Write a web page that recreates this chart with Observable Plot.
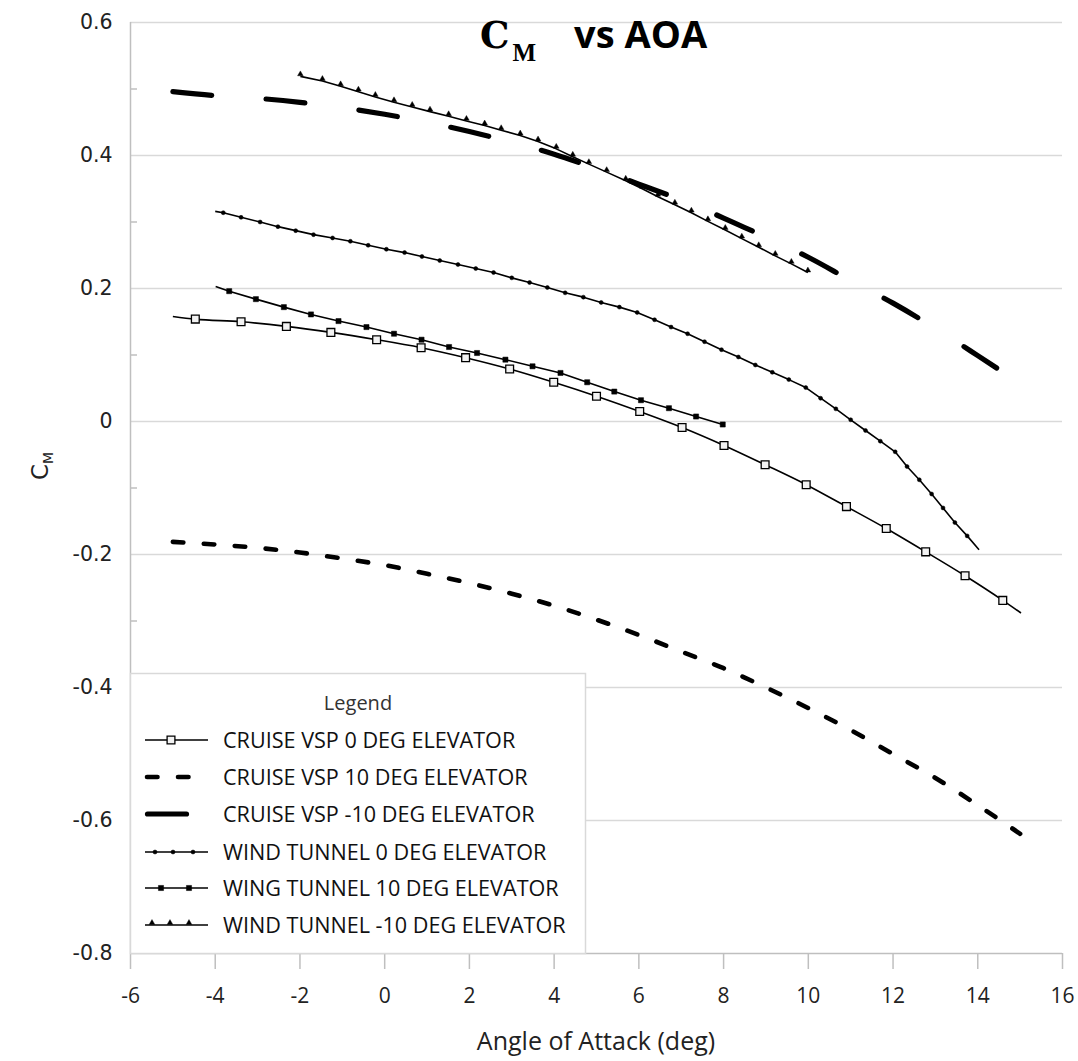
<!DOCTYPE html>
<html><head><meta charset="utf-8">
<script src="https://cdn.jsdelivr.net/npm/d3@7"></script>
<script src="https://cdn.jsdelivr.net/npm/@observablehq/plot@0.6"></script>
<style>
body{margin:0;background:#fff}
#chart{position:relative;width:1078px;height:1061px}
</style>
</head><body><div id="chart"></div>
<script>
// ---------- data ----------
const xTicks = [-6,-4,-2,0,2,4,6,8,10,12,14,16];
const yTicks = [-0.8,-0.6,-0.4,-0.2,0,0.2,0.4,0.6];
const yMinorTicks = [-0.7,-0.5,-0.3,-0.1,0.1,0.3,0.5];
const xTitle = "Angle of Attack (deg)";
const legendTitle = "Legend";
const seriesNames = [
  "CRUISE VSP 0 DEG ELEVATOR",
  "CRUISE VSP 10 DEG ELEVATOR",
  "CRUISE VSP -10 DEG ELEVATOR",
  "WIND TUNNEL 0 DEG ELEVATOR",
  "WING TUNNEL 10 DEG ELEVATOR",
  "WIND TUNNEL -10 DEG ELEVATOR"
];

const vsp0Aoa = [-5.0,-4.47,-3.39,-2.32,-1.27,-0.19,0.86,1.91,2.95,3.99,5.0,6.02,7.02,8.01,8.98,9.95,10.9,11.84,12.77,13.7,14.59,15.02];
const vsp0Cm  = [0.158,0.154,0.150,0.143,0.134,0.123,0.111,0.096,0.079,0.059,0.038,0.015,-0.009,-0.036,-0.065,-0.095,-0.128,-0.161,-0.196,-0.232,-0.269,-0.288];

const vsp10Aoa = [-5,-4,-3,-2,-1,0,1,2,3,4,5,6,7,8,9,10,11,12,13,14,15];
const vsp10Cm  = [-0.181,-0.185,-0.190,-0.197,-0.206,-0.216,-0.229,-0.243,-0.259,-0.277,-0.298,-0.321,-0.346,-0.371,-0.400,-0.431,-0.464,-0.500,-0.536,-0.577,-0.620];

const vspM10Aoa = [-5,-4,-3,-2,-1,0,1,2,3,4,5,6,7,8,9,10,11,12,13,14,15];
const vspM10Cm  = [0.496,0.490,0.486,0.480,0.472,0.462,0.450,0.436,0.420,0.402,0.380,0.357,0.333,0.306,0.277,0.247,0.212,0.178,0.140,0.099,0.057];

const wt0Aoa = [-4.0,-3.81,-3.39,-2.94,-2.52,-2.10,-1.68,-1.23,-0.81,-0.39,0.04,0.47,0.88,1.30,1.73,2.15,2.57,3.0,3.42,3.84,4.26,4.69,5.11,5.54,5.96,6.37,6.76,7.15,7.55,7.95,8.35,8.75,9.15,9.54,9.94,10.29,10.65,11.0,11.35,11.70,12.05,12.33,12.62,12.91,13.18,13.46,13.75,14.03];
const wt0Cm  = [0.316,0.314,0.307,0.300,0.293,0.287,0.281,0.276,0.271,0.265,0.259,0.254,0.248,0.242,0.236,0.230,0.224,0.216,0.209,0.2015,0.1935,0.187,0.179,0.172,0.164,0.153,0.142,0.132,0.120,0.108,0.097,0.085,0.074,0.063,0.051,0.035,0.019,0.0026,-0.0135,-0.0296,-0.0456,-0.0677,-0.0877,-0.109,-0.130,-0.152,-0.172,-0.193];

const wt10Aoa = [-3.99,-3.67,-3.04,-2.38,-1.74,-1.09,-0.43,0.22,0.87,1.52,2.18,2.85,3.49,4.15,4.78,5.42,6.05,6.71,7.35,7.98];
const wt10Cm  = [0.203,0.196,0.184,0.172,0.161,0.151,0.142,0.132,0.123,0.112,0.103,0.093,0.083,0.073,0.059,0.045,0.032,0.020,0.0075,-0.0045];

const wtM10Aoa = [-1.99,-1.47,-1.04,-0.62,-0.22,0.22,0.65,1.07,1.51,1.93,2.36,2.75,3.20,3.62,4.05,4.44,4.82,5.24,5.69,6.08,6.45,6.85,7.24,7.63,8.04,8.43,8.83,9.22,9.60,9.99];
const wtM10Cm  = [0.519,0.512,0.504,0.496,0.488,0.480,0.473,0.466,0.459,0.452,0.445,0.438,0.430,0.421,0.410,0.398,0.387,0.375,0.362,0.350,0.338,0.326,0.314,0.301,0.288,0.275,0.262,0.249,0.237,0.224];

// ---------- styles ----------
const FONT = "'Open Sans', sans-serif";
const markerStyles = {
  square:   {symbol: "square", r: 4.4, fill: "#f2f2f2", stroke: "black", strokeWidth: 1.3},
  fsquare:  {symbol: "square", r: 2.9, fill: "black", stroke: "black", strokeWidth: 0.5},
  dot:      {symbol: "circle", r: 2.0, fill: "black", stroke: "black", strokeWidth: 0.5},
  triangle: {symbol: "triangle", r: 2.1, fill: "black", stroke: "black", strokeWidth: 0.4, dy: -2.2}
};
const series = [
  {name: seriesNames[0], aoa: vsp0Aoa, cm: vsp0Cm, width: 1.6, dash: null, curve: "monotone-x", marker: "square", markFrom: 1, markTo: vsp0Aoa.length - 2},
  {name: seriesNames[1], aoa: vsp10Aoa, cm: vsp10Cm, width: 4.6, dash: "10.5,20.5", curve: "monotone-x", marker: null},
  {name: seriesNames[2], aoa: vspM10Aoa, cm: vspM10Cm, width: 5.2, dash: "39,54.5", curve: "monotone-x", marker: null},
  {name: seriesNames[3], aoa: wt0Aoa, cm: wt0Cm, width: 1.6, dash: null, curve: "linear", marker: "dot", markFrom: 1, markTo: wt0Aoa.length - 2},
  {name: seriesNames[4], aoa: wt10Aoa, cm: wt10Cm, width: 1.6, dash: null, curve: "linear", marker: "fsquare", markFrom: 1, markTo: wt10Aoa.length - 1},
  {name: seriesNames[5], aoa: wtM10Aoa, cm: wtM10Cm, width: 1.6, dash: null, curve: "linear", marker: "triangle", markFrom: 0, markTo: wtM10Aoa.length - 1}
];

const yFmt = d => Math.abs(d) < 1e-9 ? "0" : d.toFixed(1);

const marks = [
  Plot.ruleY(yTicks.filter(d => d > -0.8), {stroke: "#d9d9d9", strokeWidth: 1.5}),
  Plot.ruleY([-0.8], {stroke: "#bfbfbf", strokeWidth: 1.5}),
  Plot.ruleX([-6], {stroke: "#bfbfbf", strokeWidth: 1.5}),
  Plot.axisX({ticks: xTicks, tickSize: 16, tickPadding: 19, stroke: "#bfbfbf", strokeWidth: 1.5,
    fontSize: 21, fontFamily: FONT, fill: "#222", tickFormat: d => String(d), label: null}),
  Plot.axisY({ticks: yTicks, tickSize: 0, tickPadding: 18, fontSize: 20.5, fontFamily: "'DejaVu Sans', sans-serif",
    fill: "#222", tickFormat: yFmt, label: null}),
  Plot.axisY({ticks: yMinorTicks, tickSize: 7, dx: 7, stroke: "#bfbfbf", strokeWidth: 1.5, tickFormat: () => "", label: null})
];

for (const s of series) {
  const rows = s.aoa.map((a, i) => ({aoa: a, cm: s.cm[i], i}));
  marks.push(Plot.line(rows, {x: "aoa", y: "cm", stroke: "black", strokeWidth: s.width,
    strokeDasharray: s.dash, strokeLinecap: s.dash ? "round" : "butt", strokeLinejoin: "round", curve: s.curve}));
  if (s.marker) {
    const mrows = rows.filter(r => r.i >= s.markFrom && r.i <= s.markTo);
    marks.push(Plot.dot(mrows, {x: "aoa", y: "cm", ...markerStyles[s.marker]}));
  }
}

const plot = Plot.plot({
  width: 1078, height: 1061,
  marginLeft: 130, marginRight: 16, marginTop: 22, marginBottom: 108,
  x: {domain: [-6, 16]},
  y: {domain: [-0.8, 0.6]},
  style: {fontFamily: FONT, background: "white", color: "#222"},
  marks
});
document.getElementById("chart").appendChild(plot);

// ---------- title, axis titles, legend (overlaid text) ----------
const svg = d3.select(plot);

const title = svg.append("text").attr("x", 480).attr("y", 48).attr("text-anchor", "start")
  .attr("fill", "black");
title.append("tspan").text("C").attr("font-family", "'DejaVu Serif', serif").attr("font-weight", "bold").attr("font-size", 37);
title.append("tspan").text("M").attr("font-family", "'Liberation Serif', serif").attr("font-weight", "bold").attr("font-size", 25).attr("dy", 13).attr("dx", 3);
title.append("tspan").text("vs AOA").attr("font-family", FONT).attr("font-weight", "bold").attr("font-size", 38).attr("dy", -13).attr("dx", 38);

svg.append("text").attr("x", 596).attr("y", 1050).attr("text-anchor", "middle")
  .attr("font-family", FONT).attr("font-size", 25).attr("fill", "#222").text(xTitle);

const yl = svg.append("text").attr("transform", "translate(48,480) rotate(-90)").attr("text-anchor", "start")
  .attr("font-family", "'DejaVu Sans', sans-serif").attr("fill", "#222");
yl.append("tspan").text("C").attr("font-size", 23);
yl.append("tspan").text("M").attr("font-size", 14).attr("dy", 5);

// legend
const lg = svg.append("g").attr("transform", "translate(130,673)");
lg.append("rect").attr("x", 0.5).attr("y", 0.5).attr("width", 455).attr("height", 280)
  .attr("fill", "white").attr("stroke", "#d9d9d9").attr("stroke-width", 1.5);
lg.append("text").attr("x", 228).attr("y", 37).attr("text-anchor", "middle")
  .attr("font-family", FONT).attr("font-size", 20).attr("fill", "#333").text(legendTitle);

const rowY = [67, 104, 141, 179, 215, 252];
const symDot = (g, sty, cx, cy) => {
  const sym = sty.symbol === "square" ? d3.symbolSquare : sty.symbol === "triangle" ? d3.symbolTriangle : d3.symbolCircle;
  const area = Math.PI * sty.r * sty.r;
  g.append("path").attr("d", d3.symbol(sym, area)()).attr("transform", `translate(${cx},${cy + (sty.dy || 0)})`)
    .attr("fill", sty.fill).attr("stroke", sty.stroke).attr("stroke-width", sty.strokeWidth);
};
const legendMarkerX = {square: [41], dot: [25, 43, 63], fsquare: [31, 59], triangle: [22, 40, 59]};
series.forEach((s, k) => {
  const cy = rowY[k];
  const g = lg.append("g");
  if (s.dash) {
    const x0 = s.width > 5 ? 17.5 : 17, x1 = s.width > 5 ? 56.5 : 59;
    g.append("line").attr("x1", x0).attr("x2", x1).attr("y1", cy).attr("y2", cy)
      .attr("stroke", "black").attr("stroke-width", s.width).attr("stroke-linecap", "round")
      .attr("stroke-dasharray", s.width > 5 ? null : s.dash);
  } else {
    g.append("line").attr("x1", 15).attr("x2", 78).attr("y1", cy).attr("y2", cy)
      .attr("stroke", "black").attr("stroke-width", s.width);
    for (const mx of legendMarkerX[s.marker]) symDot(g, markerStyles[s.marker], mx, cy);
  }
  g.append("text").attr("x", 93).attr("y", cy + 7.5).attr("text-anchor", "start")
    .attr("font-family", FONT).attr("font-size", 21.6).attr("fill", "#111").text(s.name);
});
</script>
</body></html>
